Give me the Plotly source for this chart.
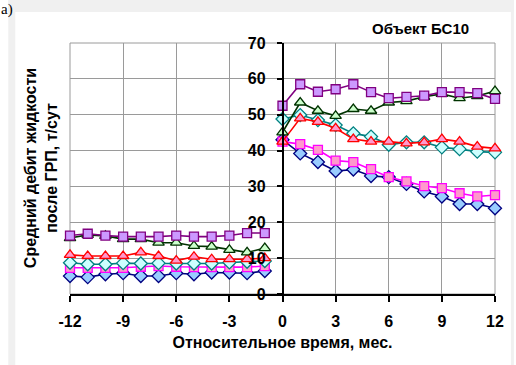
import plotly.graph_objects as go

# ---------------- data ----------------
months = list(range(-12, 13))
purple_vals = [16.3, 16.8, 16.3, 16.0, 16.0, 16.0, 16.3, 16.0, 16.0, 16.3, 17.0, 17.0,
               52.5, 58.5, 56.4, 57.1, 58.5, 56.3, 54.6, 55.0, 55.3, 56.3, 56.3, 56.0, 54.4]
green_vals = [15.6, 16.5, 16.2, 15.3, 15.3, 14.3, 14.3, 13.4, 13.2, 12.3, 11.6, 12.8,
              45.1, 53.4, 51.1, 49.7, 51.6, 51.1, 53.4, 53.8, 55.0, 55.8, 54.6, 55.2, 56.6]
teal_vals = [8.7, 8.3, 8.3, 8.6, 8.5, 8.6, 8.5, 8.5, 8.5, 8.8, 9.0, 9.2,
             48.8, 49.9, 48.5, 47.1, 44.8, 43.9, 41.6, 42.3, 42.3, 40.9, 40.4, 39.7, 39.5]
red_vals = [10.9, 10.6, 10.6, 10.6, 11.6, 10.6, 9.3, 10.4, 9.7, 9.7, 9.7, 10.0,
            42.5, 49.0, 48.0, 46.2, 43.2, 42.5, 42.5, 42.0, 42.3, 43.2, 42.5, 41.1, 40.6]
magenta_vals = [7.3, 7.3, 7.3, 7.3, 7.6, 7.8, 7.6, 7.5, 7.5, 7.5, 7.5, 7.8,
                42.5, 41.8, 40.2, 37.2, 36.8, 34.8, 32.6, 31.4, 30.1, 29.5, 28.1, 27.2, 27.6]
navy_vals = [5.0, 4.7, 5.5, 5.8, 5.0, 5.0, 5.8, 5.5, 6.0, 6.0, 5.8, 6.4,
             43.0, 39.2, 36.8, 34.3, 34.7, 32.9, 32.6, 30.7, 28.6, 27.2, 25.1, 25.1, 23.9]

x_ticks = [-12, -9, -6, -3, 0, 3, 6, 9, 12]
y_ticks = [0, 10, 20, 30, 40, 50, 60, 70]

title_text = "Объект БС10"
x_title = "Относительное время, мес."
y_title = "Средний дебит жидкости<br>после ГРП, т/сут"
corner_label = "а)"

# ---------------- styles ----------------
series = [
    (navy_vals, "#000080", "#99ccff", "diamond", 10),
    (magenta_vals, "#ff00ff", "#ff99cc", "square", 9),
    (teal_vals, "#008080", "#ccffff", "diamond", 10),
    (red_vals, "#ff0000", "#ff99cc", "triangle-up", 10),
    (green_vals, "#003300", "#ccffcc", "triangle-up", 10),
    (purple_vals, "#800080", "#cc99ff", "square", 9),
]

W, H = 516, 365
L, R, T, B = 70, 19, 43, 71
pw, ph = W - L - R, H - T - B


def px(xp):
    return (xp - L) / pw


def py(yp):
    return (H - B - yp) / ph


fig = go.Figure()
for vals, lc, fc, sym, ms in series:
    pre_x = [m for m in months if m < 0]
    pre_y = [v for m, v in zip(months, vals) if m < 0]
    post_x = [m for m in months if m >= 0]
    post_y = [v for m, v in zip(months, vals) if m >= 0]
    for xs, ys in ((pre_x, pre_y), (post_x, post_y)):
        fig.add_trace(go.Scatter(
            x=xs, y=ys, mode="lines+markers", showlegend=False, cliponaxis=False,
            line=dict(color=lc, width=1.6),
            marker=dict(symbol=sym, size=ms, color=fc,
                        line=dict(color=lc, width=1.3)),
        ))

font_main = "Liberation Sans, Arial, sans-serif"
grid_c = "#9a9a9a"

fig.update_layout(
    width=W, height=H,
    margin=dict(l=L, r=R, t=T, b=B),
    paper_bgcolor="white", plot_bgcolor="white",
    font=dict(family=font_main, size=16, color="black"),
    xaxis=dict(
        range=[-12, 12], tickvals=x_ticks, ticktext=[str(v) for v in x_ticks],
        showgrid=True, gridcolor=grid_c, gridwidth=1, zeroline=False,
        showline=True, linecolor="black", linewidth=1.5,
        ticks="outside", ticklen=6, tickcolor="black", tickwidth=1.5,
        tickfont=dict(family=font_main, size=16, color="black", weight="bold"),
        ticklabelstandoff=6,
        title=dict(text="<b>" + x_title + "</b>", font=dict(size=16), standoff=8),
    ),
    yaxis=dict(
        range=[0, 70], tickvals=y_ticks, ticktext=[str(v) for v in y_ticks],
        anchor="free", position=0.5,
        showgrid=True, gridcolor=grid_c, gridwidth=1, zeroline=False,
        showline=True, linecolor="black", linewidth=1.5,
        ticks="outside", ticklen=5, tickcolor="black", tickwidth=1.5,
        tickfont=dict(family=font_main, size=16, color="black", weight="bold"),
        ticklabelstandoff=8,
    ),
    shapes=[
        dict(type="rect", xref="paper", yref="paper", x0=0, x1=1, y0=0, y1=1,
             line=dict(color=grid_c, width=1), layer="below"),
        dict(type="rect", xref="paper", yref="paper", x0=px(8), x1=px(15), y0=py(0), y1=py(H),
             fillcolor="#f0f0f0", line=dict(width=0), layer="below"),
        dict(type="rect", xref="paper", yref="paper", x0=px(8), x1=px(W), y0=py(0), y1=py(12),
             fillcolor="#f0f0f0", line=dict(width=0), layer="below"),
        dict(type="rect", xref="paper", yref="paper", x0=px(513), x1=px(W), y0=py(0), y1=py(H),
             fillcolor="#f0f0f0", line=dict(width=0), layer="below"),
    ],
    annotations=[
        dict(text="<b>" + title_text + "</b>", xref="paper", yref="paper",
             x=px(422), y=py(28), xanchor="center", yanchor="middle", showarrow=False,
             font=dict(family=font_main, size=15, color="black")),
        dict(text="<b>" + y_title + "</b>", xref="paper", yref="paper",
             x=px(41), y=py(168), xanchor="center", yanchor="middle", showarrow=False,
             textangle=-90, font=dict(family=font_main, size=16, color="black")),
        dict(text=corner_label, xref="paper", yref="paper",
             x=px(0), y=py(0), xanchor="left", yanchor="top", showarrow=False,
             borderpad=0,
             font=dict(family="Liberation Serif, Times New Roman, serif", size=15, color="black")),
    ],
)

fig.write_html("out.html")
